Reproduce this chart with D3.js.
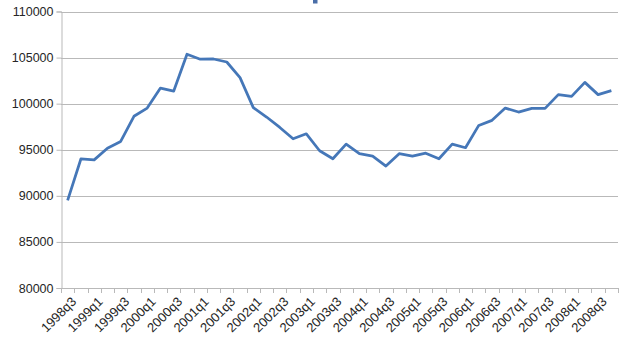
<!DOCTYPE html>
<html>
<head>
<meta charset="utf-8">
<script src="https://cdn.jsdelivr.net/npm/d3@7"></script>
<style>
  body { margin: 0; background: #fff; }
  text { font-family: "Liberation Sans", Arial, sans-serif; fill: #262626; }
</style>
</head>
<body>
<div id="chart"></div>
<script>
// quarters on the category axis
var quarters = ["1998q3","1998q4","1999q1","1999q2","1999q3","1999q4","2000q1","2000q2",
  "2000q3","2000q4","2001q1","2001q2","2001q3","2001q4","2002q1","2002q2","2002q3","2002q4",
  "2003q1","2003q2","2003q3","2003q4","2004q1","2004q2","2004q3","2004q4","2005q1","2005q2",
  "2005q3","2005q4","2006q1","2006q2","2006q3","2006q4","2007q1","2007q2","2007q3","2007q4",
  "2008q1","2008q2","2008q3","2008q4"];
// series values
var values = [89500, 94000, 93900, 95170, 95900, 98630, 99520, 101690, 101370, 105360,
  104820, 104850, 104520, 102820, 99570, 98550, 97420, 96190, 96730, 94890,
  94020, 95610, 94570, 94310, 93230, 94570, 94310, 94630, 94020, 95610,
  95220, 97640, 98190, 99520, 99090, 99490, 99490, 100980, 100790, 102310,
  100980, 101410];
var yTicks = [80000, 85000, 90000, 95000, 100000, 105000, 110000];

var width = 621, height = 347;
var plotLeft = 61, plotRight = 618, plotTop = 11.5, plotBottom = 288;

var svg = d3.select("#chart").append("svg").attr("width", width).attr("height", height);

var x = d3.scaleBand().domain(quarters).range([plotLeft, plotRight]).paddingInner(0).paddingOuter(0);
var y = d3.scaleLinear().domain([80000, 110000]).range([plotBottom, plotTop]);

// bit of the cut off title at the very top
svg.append("rect").attr("x", 313).attr("y", 0).attr("width", 4.5).attr("height", 3.5).attr("fill", "#4a6ea8");

// gridlines
svg.append("g").selectAll("line").data(yTicks).enter().append("line")
  .attr("x1", plotLeft).attr("x2", plotRight)
  .attr("y1", function(d) { return Math.round(y(d)) + 0.5; })
  .attr("y2", function(d) { return Math.round(y(d)) + 0.5; })
  .attr("stroke", "#b9b9b9").attr("stroke-width", 1);

// y axis
var yAxis = d3.axisLeft(y).tickValues(yTicks).tickSize(5).tickPadding(3).tickFormat(d3.format("d"));
var gy = svg.append("g").attr("transform", "translate(" + (plotLeft + 0.5) + ",0)").call(yAxis);
gy.select(".domain").attr("stroke", "#b9b9b9");
gy.selectAll(".tick line").attr("stroke", "#b9b9b9");
gy.selectAll("text").style("font-size", "12.5px").attr("fill", "#262626");

// x axis, ticks between categories
var bounds = quarters.map(function(q) { return x(q); }).concat([plotRight]);
var gx = svg.append("g");
gx.append("line").attr("x1", plotLeft).attr("x2", plotRight)
  .attr("y1", Math.round(plotBottom) + 0.5).attr("y2", Math.round(plotBottom) + 0.5).attr("stroke", "#b9b9b9");
gx.selectAll("line.tk").data(bounds).enter().append("line").attr("class", "tk")
  .attr("x1", function(d) { return Math.round(d) + 0.5; })
  .attr("x2", function(d) { return Math.round(d) + 0.5; })
  .attr("y1", plotBottom).attr("y2", plotBottom + 5).attr("stroke", "#b9b9b9");

var half = x.bandwidth() / 2;
gx.selectAll("text").data(quarters.filter(function(q, i) { return i % 2 == 0; })).enter().append("text")
  .attr("transform", function(d) { return "translate(" + (x(d) + half + 3) + "," + (plotBottom + 8) + ") rotate(-45)"; })
  .attr("text-anchor", "end")
  .attr("dy", "0.7em")
  .style("font-size", "13px")
  .text(function(d) { return d; });

// the series line
var line = d3.line()
  .x(function(d, i) { return x(quarters[i]) + half; })
  .y(function(d) { return y(d); });

svg.append("path").datum(values)
  .attr("d", line)
  .attr("fill", "none")
  .attr("stroke", "#4577b8")
  .attr("stroke-width", 2.75)
  .attr("stroke-linejoin", "round");
</script>
</body>
</html>
